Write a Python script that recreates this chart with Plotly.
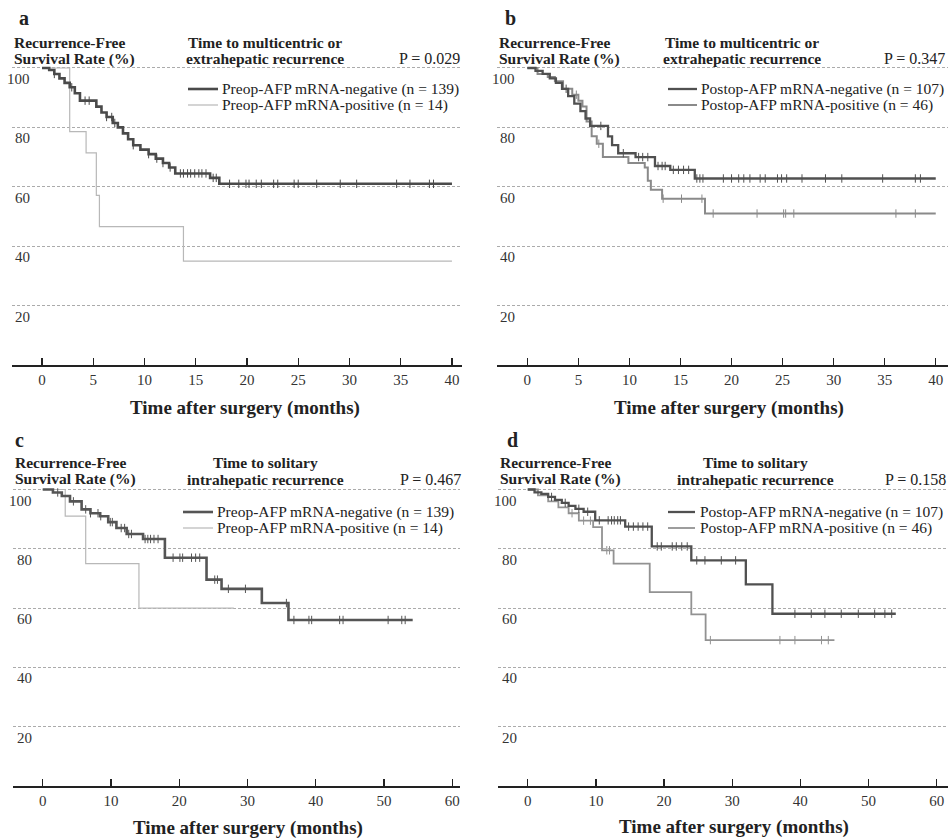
import numpy as np
import plotly.graph_objects as go

W, H = 950, 840
FONT = "Liberation Serif, Times New Roman, serif"
TXT = "#222222"

# ---------------- data ----------------
# Panel a : Preop-AFP mRNA, multicentric / extrahepatic recurrence
a_neg_t = [0, 0.7, 1.2, 1.7, 2.2, 2.7, 3.2, 3.7, 5.3, 5.8, 6.3, 6.9, 7.4, 7.9, 8.4, 8.9, 9.6, 10.4, 11.1, 11.8, 12.4, 13.0, 16.4, 17.3, 40]
a_neg_s = [100, 99.3, 98, 96.5, 95, 93.5, 91.5, 89, 87, 85, 83.5, 81.5, 80, 78, 76, 74, 72.5, 71, 69.5, 68, 66.5, 64.5, 63, 61, 61]
a_neg_cens = [1.2, 2.9, 4.2, 4.6, 6.3, 6.8, 7.1, 8.9, 10.4, 11.2, 11.8, 12.5, 13.5, 13.8, 14.2, 14.5, 14.9, 15.3, 15.6, 16.0,
              16.7, 17.0, 18.3, 19.2, 19.9, 20.2, 20.9, 21.4, 22.6, 23.0, 24.6, 25.0, 26.8, 29.1, 30.7, 34.6, 35.9, 37.8, 38.2]
a_pos_t = [0, 2.7, 4.3, 5.3, 5.6, 13.8, 40]
a_pos_s = [100, 78.6, 71.4, 57.1, 46.6, 35, 35]
a_pos_cens = []

# Panel b : Postop-AFP mRNA, multicentric / extrahepatic recurrence
b_neg_t = [0, 0.8, 1.5, 2.2, 2.8, 3.4, 4.0, 4.6, 5.2, 5.7, 6.15, 7.9, 8.3, 8.9, 10.6, 12.5, 14.0, 16.4, 40]
b_neg_s = [100, 99, 98, 96.5, 95, 93, 90.5, 88, 85.5, 83, 80.5, 77, 74, 71.3, 70, 67, 65.7, 62.8, 62.8]
b_neg_cens = [3.8, 7.2, 9.4, 10.9, 11.3, 11.8, 12.8, 13.2, 13.5, 14.3, 14.8, 15.3, 15.8, 16.6, 16.9, 17.2, 19.2, 20.0, 20.7,
              21.2, 21.8, 22.8, 23.3, 24.5, 24.9, 25.4, 26.9, 29.2, 30.8, 34.8, 38.0, 38.5]
b_pos_t = [0, 1.0, 2.0, 2.7, 3.5, 4.4, 5.0, 5.4, 5.8, 6.3, 6.8, 7.4, 9.9, 11.5, 11.8, 12.1, 13.2, 17.4, 40]
b_pos_s = [100, 98, 97, 95.5, 93, 91, 89, 87, 82, 77, 74.5, 70, 68, 66.5, 62, 59, 56, 51, 51]
b_pos_cens = [4.8, 7.0, 13.3, 15.1, 17.1, 18.2, 22.5, 25.1, 25.3, 26.1, 36.1, 38.0]

# Panel c : Preop-AFP mRNA, solitary intrahepatic recurrence
c_neg_t = [0, 1.5, 2.8, 4.0, 5.7, 7.0, 8.4, 9.6, 10.8, 12.3, 14.7, 17.9, 24.0, 26.2, 32.1, 36.0, 54.2]
c_neg_s = [100, 99, 97.8, 96, 93.3, 92, 91, 89, 87, 85, 83.3, 77, 69.6, 66.5, 61.7, 56, 56]
c_neg_cens = [2.2, 4.5, 6.3, 7.0, 8.1, 8.5, 9.9, 10.2, 11.5, 12.0, 12.6, 13.0, 15.0, 15.4, 15.8, 16.3, 16.9, 19.1, 20.1,
              20.5, 21.8, 22.4, 23.0, 25.2, 25.6, 27.2, 29.7, 35.7, 36.8, 39.0, 39.4, 43.5, 44.0, 50.6, 52.6, 53.1]
c_pos_t = [0, 3.3, 6.3, 14.1, 28]
c_pos_s = [100, 91, 75, 60, 60]
c_pos_cens = []

# Panel d : Postop-AFP mRNA, solitary intrahepatic recurrence
d_neg_t = [0, 1.0, 2.0, 3.0, 4.0, 5.0, 6.0, 7.0, 8.2, 9.9, 14.3, 18.2, 24.0, 32.0, 35.9, 54.0]
d_neg_s = [100, 99, 98.5, 97.5, 96.5, 95.5, 94.5, 93.5, 92.5, 89.6, 87.5, 80.8, 76.1, 68, 58.1, 58.1]
d_neg_cens = [3.5, 5.5, 7.5, 8.8, 10.5, 11.8, 12.3, 12.7, 13.2, 13.6, 14.8, 15.5, 16.2, 16.9, 17.6, 19.0, 19.6, 21.2,
              21.8, 22.6, 23.4, 24.8, 26.0, 28.4, 30.5, 39.2, 41.6, 43.6, 46.0, 48.5, 50.9, 52.4, 53.4]
d_pos_t = [0, 1.5, 3.0, 4.5, 6.0, 7.5, 9.6, 10.9, 12.6, 17.9, 24.0, 26.1, 45.0]
d_pos_s = [100, 98, 96, 94, 92, 89.5, 87.3, 79.5, 75, 65.4, 57.9, 49.2, 49.2]
d_pos_cens = [6.5, 8.2, 9.2, 11.6, 12.0, 26.8, 37.0, 39.2, 43.1, 44.1]

panel_letters = ["a", "b", "c", "d"]
titles = [["Time to multicentric or", "extrahepatic recurrence"],
          ["Time to multicentric or", "extrahepatic recurrence"],
          ["Time to solitary", "intrahepatic recurrence"],
          ["Time to solitary", "intrahepatic recurrence"]]
p_values = ["P = 0.029", "P = 0.347", "P = 0.467", "P = 0.158"]
legend_names = [["Preop-AFP mRNA-negative (n = 139)", "Preop-AFP mRNA-positive (n = 14)"],
                ["Postop-AFP mRNA-negative (n = 107)", "Postop-AFP mRNA-positive (n = 46)"],
                ["Preop-AFP mRNA-negative (n = 139)", "Preop-AFP mRNA-positive (n = 14)"],
                ["Postop-AFP mRNA-negative (n = 107)", "Postop-AFP mRNA-positive (n = 46)"]]
y_ticks = [20, 40, 60, 80, 100]
x_ticks_top = [0, 5, 10, 15, 20, 25, 30, 35, 40]
x_ticks_bottom = [0, 10, 20, 30, 40, 50, 60]
y_label = ["Recurrence-Free", "Survival Rate (%)"]
x_label = "Time after surgery (months)"

curves = [
    [(a_neg_t, a_neg_s, a_neg_cens), (a_pos_t, a_pos_s, a_pos_cens)],
    [(b_neg_t, b_neg_s, b_neg_cens), (b_pos_t, b_pos_s, b_pos_cens)],
    [(c_neg_t, c_neg_s, c_neg_cens), (c_pos_t, c_pos_s, c_pos_cens)],
    [(d_neg_t, d_neg_s, d_neg_cens), (d_pos_t, d_pos_s, d_pos_cens)],
]

# ---------------- styling / layout ----------------
styles = [
    [dict(color="#4a4a4a", width=2.6), dict(color="#b8b8b8", width=1.2)],
    [dict(color="#505050", width=2.3), dict(color="#8a8a8a", width=2.0)],
    [dict(color="#555555", width=2.6), dict(color="#b8b8b8", width=1.2)],
    [dict(color="#505050", width=2.3), dict(color="#929292", width=1.8)],
]

# pixel geometry per panel
geo = [
    dict(xd=(12, 462), xr=[-2.93, 40.98], yd=(60, 365), yr=[0, 102.69], xt=x_ticks_top,
         letter=(17, 18), rf_x=12, hy=(42, 59), title_cx=265, p_x=462, leg_x=(188, 218, 220), leg_y=(89, 105),
         ylab_x=32, xt_c=(245, 408)),
    dict(xd=(497, 948), xr=[-2.97, 41.20], yd=(60, 365), yr=[0, 102.69], xt=x_ticks_top,
         letter=(503, 18), rf_x=497, hy=(42, 59), title_cx=742, p_x=947, leg_x=(668, 697, 699), leg_y=(89, 105),
         ylab_x=517, xt_c=(729, 408)),
    dict(xd=(13, 460), xr=[-4.35, 61.13], yd=(481, 786), yr=[0, 102.87], xt=x_ticks_bottom,
         letter=(13, 440), rf_x=13, hy=(462, 479), title_cx=265, p_x=463, leg_x=(183, 213, 215), leg_y=(512, 528),
         ylab_x=34, xt_c=(248, 828)),
    dict(xd=(498, 948), xr=[-4.36, 61.66], yd=(481, 786), yr=[0, 102.87], xt=x_ticks_bottom,
         letter=(505, 440), rf_x=498, hy=(462, 479), title_cx=755, p_x=948, leg_x=(668, 695, 698), leg_y=(512, 528),
         ylab_x=519, xt_c=(734, 827)),
]


def px(x):
    return x / W


def py(y):
    return 1 - y / H


def step_value(ts, ss, t):
    i = int(np.searchsorted(np.asarray(ts), t, side="right")) - 1
    return ss[max(i, 0)]


fig = go.Figure()
annotations = []
shapes = []
layout_axes = {}

for k in range(4):
    g = geo[k]
    xa = "x" if k == 0 else f"x{k+1}"
    ya = "y" if k == 0 else f"y{k+1}"
    xname = "xaxis" if k == 0 else f"xaxis{k+1}"
    yname = "yaxis" if k == 0 else f"yaxis{k+1}"

    # curves drawn positive first so the dark curve is on top
    for j in (1, 0):
        ts, ss, cens = curves[k][j]
        st = styles[k][j]
        fig.add_trace(go.Scatter(x=ts, y=ss, mode="lines", line=dict(color=st["color"], width=st["width"], shape="hv"),
                                 xaxis=xa, yaxis=ya, showlegend=False, hoverinfo="skip"))
        if cens:
            cy = [step_value(ts, ss, t) for t in cens]
            fig.add_trace(go.Scatter(x=cens, y=cy, mode="markers",
                                     marker=dict(symbol="line-ns", size=6,
                                                 line=dict(color=st["color"], width=1)),
                                     xaxis=xa, yaxis=ya, showlegend=False, hoverinfo="skip"))

    layout_axes[xname] = dict(
        domain=[px(g["xd"][0]), px(g["xd"][1])], range=g["xr"], anchor=ya,
        showline=True, linecolor="#222", linewidth=1.6, ticks="inside", ticklen=7, tickwidth=1.3,
        tickcolor="#222", tickvals=g["xt"], ticktext=[str(v) for v in g["xt"]],
        tickfont=dict(family=FONT, size=15, color="#333"), showgrid=False, zeroline=False, fixedrange=True)
    layout_axes[yname] = dict(
        domain=[py(g["yd"][1]), py(g["yd"][0])], range=g["yr"], anchor=xa,
        showline=False, ticks="", showticklabels=False, tickvals=y_ticks,
        showgrid=True, gridcolor="#ababab", gridwidth=1, griddash="3px,2px", zeroline=False, fixedrange=True)

    # y tick labels (sit just below each gridline)
    for v in y_ticks:
        annotations.append(dict(text=str(v), xref="paper", yref=ya, x=px(g["ylab_x"]), y=v, yshift=-11,
                                xanchor="right", yanchor="middle", showarrow=False,
                                font=dict(family=FONT, size=15, color="#333")))
    # panel letter
    annotations.append(dict(text=f"<b>{panel_letters[k]}</b>", xref="paper", yref="paper",
                            x=px(g["letter"][0]), y=py(g["letter"][1]), xanchor="left", yanchor="middle",
                            showarrow=False, font=dict(family=FONT, size=20, color=TXT)))
    # y label (two lines)
    for line, yy in zip(y_label, g["hy"]):
        annotations.append(dict(text=f"<b>{line}</b>", xref="paper", yref="paper", x=px(g["rf_x"]), y=py(yy),
                                xanchor="left", yanchor="middle", showarrow=False,
                                font=dict(family=FONT, size=15.5, color=TXT)))
    # title (two lines, centred)
    for line, yy in zip(titles[k], g["hy"]):
        annotations.append(dict(text=f"<b>{line}</b>", xref="paper", yref="paper", x=px(g["title_cx"]), y=py(yy),
                                xanchor="center", yanchor="middle", showarrow=False,
                                font=dict(family=FONT, size=15.5, color=TXT)))
    # P value
    annotations.append(dict(text=p_values[k], xref="paper", yref="paper", x=px(g["p_x"]), y=py(g["hy"][1]),
                            xanchor="right", yanchor="middle", showarrow=False,
                            font=dict(family=FONT, size=16, color=TXT)))
    # legend
    for j in range(2):
        st = styles[k][j]
        yy = g["leg_y"][j]
        shapes.append(dict(type="line", xref="paper", yref="paper", x0=px(g["leg_x"][0]), x1=px(g["leg_x"][1]),
                           y0=py(yy), y1=py(yy), line=dict(color=st["color"], width=st["width"])))
        annotations.append(dict(text=legend_names[k][j], xref="paper", yref="paper", x=px(g["leg_x"][2]), y=py(yy),
                                xanchor="left", yanchor="middle", showarrow=False,
                                font=dict(family=FONT, size=15.5, color=TXT)))
    # x axis title
    annotations.append(dict(text=f"<b>{x_label}</b>", xref="paper", yref="paper", x=px(g["xt_c"][0]),
                            y=py(g["xt_c"][1]), xanchor="center", yanchor="middle", showarrow=False,
                            font=dict(family=FONT, size=19, color=TXT)))

fig.update_layout(width=W, height=H, margin=dict(l=0, r=0, t=0, b=0), paper_bgcolor="white",
                  plot_bgcolor="white", showlegend=False, annotations=annotations, shapes=shapes,
                  font=dict(family=FONT, color=TXT), **layout_axes)

fig.write_html("out.html", config={"displayModeBar": False, "staticPlot": True},
               post_script="document.body.style.margin='0';document.body.style.overflow='hidden';")
